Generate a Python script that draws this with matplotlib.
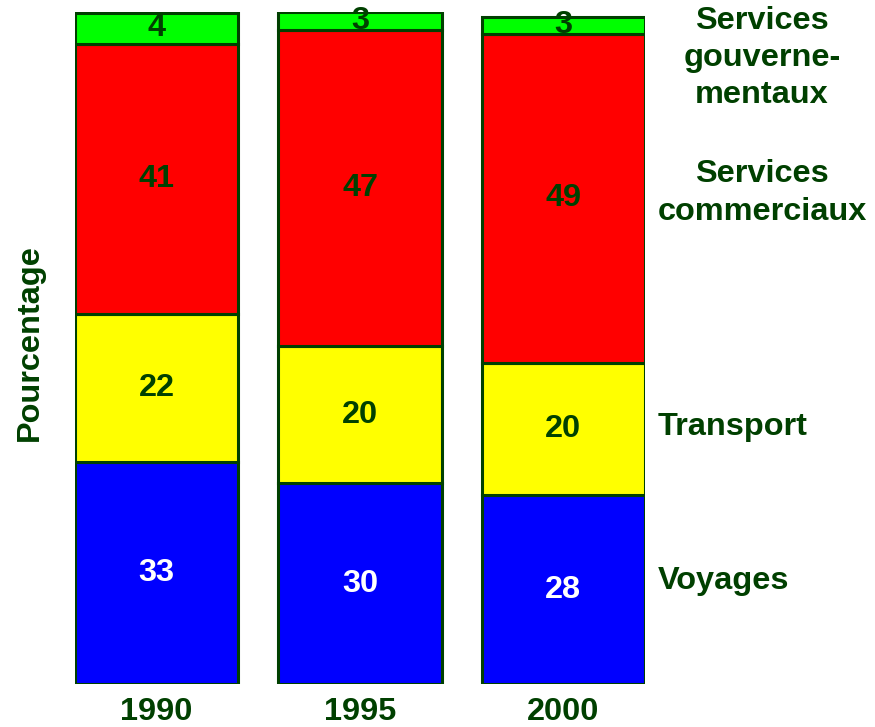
import matplotlib
matplotlib.use("Agg")
import matplotlib.pyplot as plt
import numpy as np

plt.rcParams['font.family'] = ['Liberation Sans', 'DejaVu Sans']

years = ['1990', '1995', '2000']
categories = ['Voyages', 'Transport', 'Services commerciaux', 'Services gouvernementaux']
voyages = [33.0, 29.9, 28.1]
transport = [22.0, 20.4, 19.6]
commerciaux = [40.3, 47.0, 49.1]
gouvernementaux = [4.6, 2.7, 2.5]
label_voyages = ['33', '30', '28']
label_transport = ['22', '20', '20']
label_commerciaux = ['41', '47', '49']
label_gouv = ['4', '3', '3']

series = [voyages, transport, commerciaux, gouvernementaux]
labels = [label_voyages, label_transport, label_commerciaux, label_gouv]
colors = ['#0000FF', '#FFFF00', '#FF0000', '#00FF00']
txtcolors = ['white', '#004000', '#004000', '#004000']
dark = '#004000'
FS = 23.4

W, H = 875, 727
fig = plt.figure(figsize=(W / 100, H / 100), dpi=100)
ax = fig.add_axes([75 / W, (H - 684) / H, 570 / W, 672 / H])

x = np.arange(len(years))
bottom = np.zeros(len(years))
for vals, labs, c, tc in zip(series, labels, colors, txtcolors):
    vals = np.array(vals)
    ax.bar(x, vals, bottom=bottom, width=0.803, color=c, edgecolor=dark, linewidth=2.2)
    for xi, b, v, l in zip(x, bottom, vals, labs):
        ax.text(xi, b + v / 2, l, ha='center', va='center', color=tc,
                fontsize=FS, fontweight='bold')
    bottom += vals

ax.set_xlim(-0.4015, 2.4015)
ax.set_ylim(0, 100)
ax.set_xticks([])
ax.set_yticks([])
for s in ax.spines.values():
    s.set_visible(False)

for xi, yr in zip(x, years):
    ax.annotate(yr, xy=(xi, 0), xycoords=('data', 'axes fraction'),
                xytext=(0, -28), textcoords='offset pixels',
                ha='center', va='center', fontsize=FS, fontweight='bold', color=dark,
                annotation_clip=False)

fig.text(30 / W, 1 - 343 / H, 'Pourcentage', rotation=90, ha='center', va='center',
         fontsize=FS, fontweight='bold', color=dark)

fig.text(762 / W, 1 - 58 / H, 'Services\ngouverne-\nmentaux', ha='center', va='center',
         fontsize=FS, fontweight='bold', color=dark, linespacing=1.32)
fig.text(762 / W, 1 - 193 / H, 'Services\ncommerciaux', ha='center', va='center',
         fontsize=FS, fontweight='bold', color=dark, linespacing=1.32)
fig.text(658 / W, 1 - 427 / H, 'Transport', ha='left', va='center',
         fontsize=FS, fontweight='bold', color=dark)
fig.text(658 / W, 1 - 581 / H, 'Voyages', ha='left', va='center',
         fontsize=FS, fontweight='bold', color=dark)

fig.savefig('out.png', dpi=100)
